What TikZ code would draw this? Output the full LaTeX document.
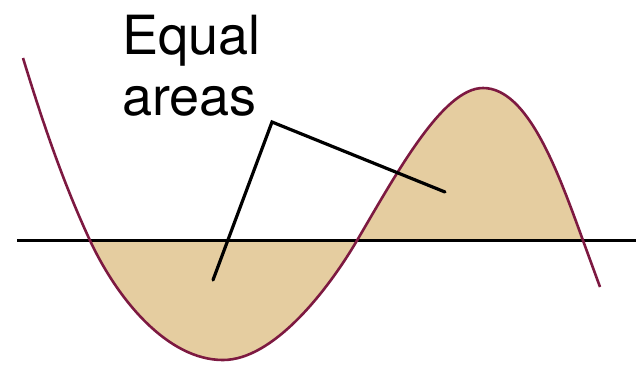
\documentclass[tikz,border=0pt]{standalone}
\usepackage{fontspec}
\setmainfont{TeX Gyre Heros}
\definecolor{curvecol}{RGB}{125,25,65}
\definecolor{areacol}{RGB}{229,205,160}
\begin{document}
\begin{tikzpicture}[x=1pt,y=-1pt,
  curveline/.style={draw=curvecol,line width=2.6pt},
  axisline/.style={draw=black,line width=3.2pt},
  leader/.style={draw=black,line width=3.2pt,line cap=round,line join=miter},
  lbl/.style={anchor=base west,inner sep=0pt,font=\fontsize{54}{60}\selectfont}]
\useasboundingbox (0,0) rectangle (644,365);
% key points of the curve
\coordinate (cstart) at (23,58);
\coordinate (r1) at (90,240.5);
\coordinate (cmin) at (223,360);
\coordinate (r2) at (357,240.5);
\coordinate (cmax) at (483,88);
\coordinate (r3) at (583,240.5);
\coordinate (cend) at (600,287);
% filled areas
\fill[areacol] (r1) .. controls (118,300.4) and (168,360) .. (cmin)
  .. controls (273,360) and (327,291.5) .. (r2)
  .. controls (397,172.5) and (443,88) .. (cmax)
  .. controls (528,88) and (558,171.75) .. (r3) -- cycle;
% axis
\coordinate (axL) at (17,240.5);
\coordinate (axR) at (636,240.5);
\draw[axisline] (axL) -- (axR);
% curve
\draw[curveline] (cstart) .. controls (42,120) and (62,180) .. (r1)
  .. controls (118,300.4) and (168,360) .. (cmin)
  .. controls (273,360) and (327,291.5) .. (r2)
  .. controls (397,172.5) and (443,88) .. (cmax)
  .. controls (528,88) and (558,171.75) .. (r3)
  -- (cend);
% labels
\node[lbl] (equal) at (122,54) {Equal};
\node[lbl] (areas) at (122,115) {areas};
% leaders
\coordinate (apex) at (272,122);
\coordinate (lowend) at (213,280);
\coordinate (highend) at (445,192);
\draw[leader] (lowend) -- (apex) -- (highend);
\end{tikzpicture}
\end{document}
